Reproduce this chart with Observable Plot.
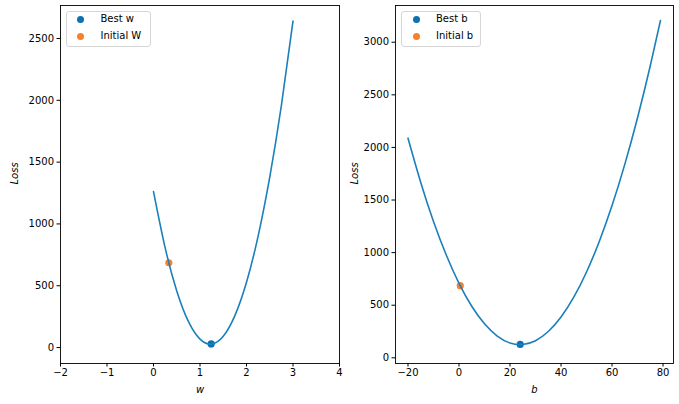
<!DOCTYPE html>
<html>
<head>
<meta charset="utf-8">
<script src="https://cdn.jsdelivr.net/npm/d3@7"></script>
<script src="https://cdn.jsdelivr.net/npm/@observablehq/plot@0.6"></script>
<style>
  body { margin: 0; background: #fff; font-family: "DejaVu Sans", sans-serif; }
  #wrap { position: relative; width: 679px; height: 404px; }
  .panel { position: absolute; top: 0; }
  .panel svg { overflow: visible; }
  .legend { position: absolute; border: 1px solid #d6d6d6; border-radius: 3px; background: rgba(255,255,255,0.8); box-sizing: border-box; }
  .lg-dot { position: absolute; width: 7px; height: 7px; border-radius: 50%; }
  .lg-text { position: absolute; font: 10px "DejaVu Sans", sans-serif; color: #000; white-space: nowrap; line-height: 12px; }
</style>
</head>
<body>
<div id="wrap">
  <div id="left" class="panel" style="left:0"></div>
  <div id="right" class="panel" style="left:340px"></div>
</div>
<script>
// ---- data ----
const wValues = [0, 0.25, 0.5, 0.75, 1.0, 1.25, 1.5, 1.75, 2.0, 2.25, 2.5, 2.75, 3.0];
const wLoss   = [1262, 808, 458, 211, 68, 28, 91, 258, 528, 901, 1378, 1958, 2641];
const bestW = {w: 1.24, loss: 29};
const initialW = {w: 0.33, loss: 686};

const bValues = [-20, -15, -10, -5, 0, 5, 10, 15, 20, 25, 30, 35, 40, 45, 50, 55, 60, 65, 70, 75, 79];
const bLoss   = [2088, 1667, 1296, 977, 708, 490, 323, 207, 141, 127, 163, 250, 388, 576, 816, 1106, 1447, 1839, 2282, 2776, 3207];
const bestB = {b: 24, loss: 127};
const initialB = {b: 0.5, loss: 686};

const wTicks = [-2, -1, 0, 1, 2, 3, 4];
const wLossTicks = [0, 500, 1000, 1500, 2000, 2500];
const bTicks = [-20, 0, 20, 40, 60, 80];
const bLossTicks = [0, 500, 1000, 1500, 2000, 2500, 3000];

const legendLeft = ["Best w", "Initial W"];
const legendRight = ["Best b", "Initial b"];

// ---- styles ----
const lineColor = "#1a7fbb";
const bestColor = "#0a72b0";
const initColor = "#f7802b";

const fmt = d => (d < 0 ? "\u2212" + Math.abs(d) : String(d));

const wData = wValues.map((w, i) => ({x: w, y: wLoss[i]}));
const bData = bValues.map((b, i) => ({x: b, y: bLoss[i]}));

function panel({width, marginLeft, marginRight, xDomain, xTicks, yDomain, yTicks, data, best, init, xLabel}) {
  return Plot.plot({
    width, height: 404,
    marginLeft, marginRight, marginTop: 5, marginBottom: 41,
    style: {fontFamily: "DejaVu Sans, sans-serif", fontSize: "10px", color: "#000", background: "transparent", overflow: "visible"},
    x: {domain: xDomain, label: null},
    y: {domain: yDomain, label: null},
    marks: [
      Plot.axisX({ticks: xTicks, tickFormat: fmt, label: null, tickSize: 3.5, tickPadding: 2, fontSize: 10}),
      Plot.axisY({ticks: yTicks, tickFormat: fmt, label: null, tickSize: 3.5, tickPadding: 3, fontSize: 10}),
      Plot.dot([init], {x: "x", y: "y", r: 3.6, fill: initColor, stroke: null}),
      Plot.dot([best], {x: "x", y: "y", r: 3.6, fill: bestColor, stroke: null}),
      Plot.line(data, {x: "x", y: "y", stroke: lineColor, strokeWidth: 1.6, curve: "natural"}),
      Plot.frame({stroke: "#000", strokeWidth: 0.9}),
      Plot.text([xLabel], {frameAnchor: "bottom", dy: 29, fontStyle: "italic", fontSize: 10, fill: "#000"}),
      Plot.text(["Loss"], {frameAnchor: "left", rotate: -90, dx: -(marginLeft - 14), fontStyle: "italic", fontSize: 10, fill: "#000"})
    ]
  });
}

document.getElementById("left").append(panel({
  width: 340, marginLeft: 60, marginRight: 1,
  xDomain: [-2, 4], xTicks: wTicks,
  yDomain: [-129, 2767], yTicks: wLossTicks,
  data: wData, best: {x: bestW.w, y: bestW.loss}, init: {x: initialW.w, y: initialW.loss},
  xLabel: "w"
}));

document.getElementById("right").append(panel({
  width: 339, marginLeft: 55, marginRight: 6,
  xDomain: [-24.9, 84.1], xTicks: bTicks,
  yDomain: [-54, 3349], yTicks: bLossTicks,
  data: bData, best: {x: bestB.b, y: bestB.loss}, init: {x: initialB.b, y: initialB.loss},
  xLabel: "b"
}));

function legend(left, top, width, labels) {
  const wrap = document.getElementById("wrap");
  const box = document.createElement("div");
  box.className = "legend";
  Object.assign(box.style, {left: left + "px", top: top + "px", width: width + "px", height: "36px"});
  wrap.append(box);
  const colors = [bestColor, initColor];
  labels.forEach((t, i) => {
    const d = document.createElement("div");
    d.className = "lg-dot";
    Object.assign(d.style, {left: (left + 11.5) + "px", top: (top + 5.5 + i * 16.5) + "px", background: colors[i]});
    wrap.append(d);
    const s = document.createElement("div");
    s.className = "lg-text";
    s.textContent = t;
    Object.assign(s.style, {left: (left + 35) + "px", top: (top + 2.5 + i * 16.5) + "px"});
    wrap.append(s);
  });
}
legend(65.5, 10.5, 85, legendLeft);
legend(401, 10.5, 80, legendRight);
</script>
</body>
</html>
